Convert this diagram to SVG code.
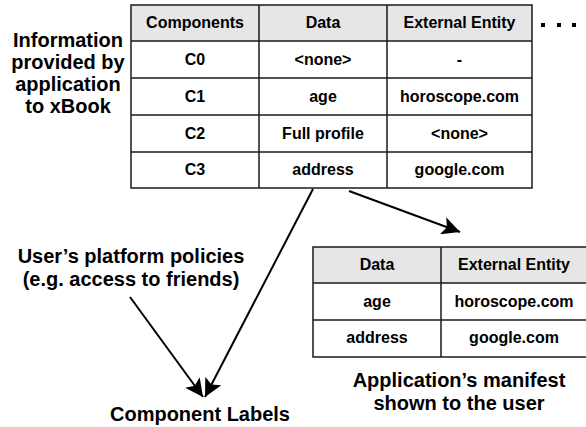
<svg xmlns="http://www.w3.org/2000/svg" width="586" height="427" viewBox="0 0 586 427">
<style>
text{font-family:"Liberation Sans",Arial,sans-serif;font-weight:bold;fill:#000}
.t{font-size:16px;text-anchor:middle}
.big{font-size:20px;text-anchor:middle}
.hdr{fill:#e6e6e6;stroke:none}
.grid{fill:none;stroke:#1a1a1a;stroke-width:1.5}
.conn{stroke:#000;stroke-width:2;fill:none}
</style>
<defs>
<marker id="ah" markerUnits="userSpaceOnUse" markerWidth="20" markerHeight="18" refX="18" refY="9" orient="auto">
<path d="M0,0 L18,9 L0,18 L4,9 Z" fill="#000"/>
</marker>
</defs>
<g id="info-label">
<text class="big" x="68" y="47">Information</text>
<text class="big" x="68" y="69">provided by</text>
<text class="big" x="68" y="91">application</text>
<text class="big" x="68" y="113">to xBook</text>
</g>
<g id="components-table">
<rect class="hdr" x="131" y="5" width="401" height="36"/>
<rect class="grid" x="131" y="5" width="401" height="183"/>
<path class="grid" d="M259,5V188M387,5V188M131,41H532M131,78H532M131,115H532M131,152H532"/>
<text class="t" x="195" y="28">Components</text>
<text class="t" x="323" y="28">Data</text>
<text class="t" x="459.5" y="28">External Entity</text>
<text class="t" x="195" y="65">C0</text>
<text class="t" x="323" y="65">&lt;none&gt;</text>
<text class="t" x="459.5" y="65">-</text>
<text class="t" x="195" y="102">C1</text>
<text class="t" x="323" y="102">age</text>
<text class="t" x="459.5" y="102">horoscope.com</text>
<text class="t" x="195" y="139">C2</text>
<text class="t" x="323" y="139">Full profile</text>
<text class="t" x="459.5" y="139">&lt;none&gt;</text>
<text class="t" x="195" y="175">C3</text>
<text class="t" x="323" y="175">address</text>
<text class="t" x="459.5" y="175">google.com</text>
</g>
<g id="ellipsis">
<rect x="541" y="23" width="4" height="4" fill="#000"/>
<rect x="557" y="23" width="4" height="4" fill="#000"/>
<rect x="572" y="23" width="4" height="4" fill="#000"/>
</g>
<g id="policies-label">
<text class="big" x="131" y="263">User’s platform policies</text>
<text class="big" x="131" y="286">(e.g. access to friends)</text>
</g>
<g id="component-labels">
<text class="big" x="200" y="421">Component Labels</text>
</g>
<g id="manifest-table">
<rect class="hdr" x="313" y="247" width="275" height="36"/>
<rect class="grid" x="313" y="247" width="280" height="110"/>
<path class="grid" d="M441,247V357M313,283H588M313,320H588"/>
<text class="t" x="377" y="270">Data</text>
<text class="t" x="514" y="270">External Entity</text>
<text class="t" x="377" y="307">age</text>
<text class="t" x="514" y="307">horoscope.com</text>
<text class="t" x="377" y="343">address</text>
<text class="t" x="514" y="343">google.com</text>
</g>
<g id="manifest-label">
<text class="big" x="459" y="387">Application’s manifest</text>
<text class="big" x="459" y="410">shown to the user</text>
</g>
<g id="connectors">
<line class="conn" x1="313" y1="189" x2="205" y2="397" marker-end="url(#ah)"/>
<line class="conn" x1="130" y1="297" x2="203" y2="397" marker-end="url(#ah)"/>
<line class="conn" x1="349" y1="191" x2="460" y2="232" marker-end="url(#ah)"/>
</g>
</svg>
